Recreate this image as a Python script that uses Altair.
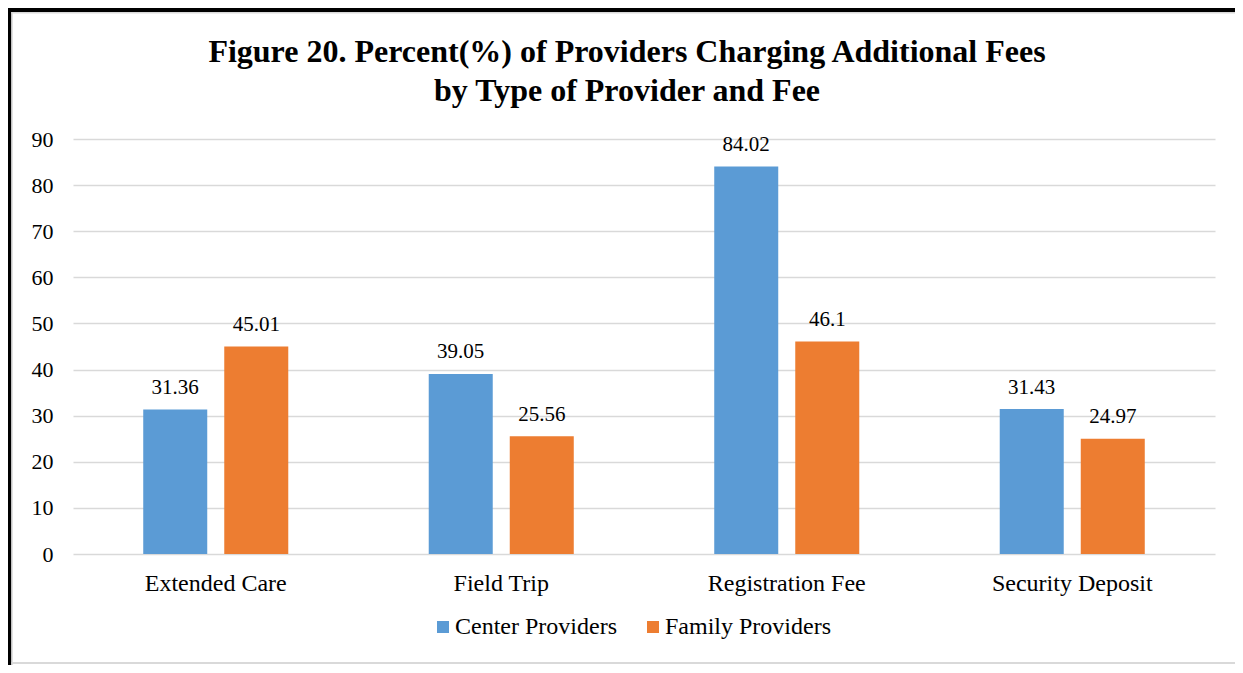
import altair as alt
import pandas as pd

# ---- data ----
categories = ["Extended Care", "Field Trip", "Registration Fee", "Security Deposit"]
series = ["Center Providers", "Family Providers"]
center_values = [31.36, 39.05, 84.02, 31.43]
family_values = [45.01, 25.56, 46.10, 24.97]
center_labels = ["31.36", "39.05", "84.02", "31.43"]
family_labels = ["45.01", "25.56", "46.1", "24.97"]
colors = ["#5B9BD5", "#ED7D31"]
y_ticks = [0, 10, 20, 30, 40, 50, 60, 70, 80, 90]
title_lines = ["Figure 20. Percent(%) of Providers Charging Additional Fees",
               "by Type of Provider and Fee"]

rows = []
for i, c in enumerate(categories):
    rows.append({"category": c, "series": series[0], "value": center_values[i], "label": center_labels[i]})
    rows.append({"category": c, "series": series[1], "value": family_values[i], "label": family_labels[i]})
df = pd.DataFrame(rows)

FONT = "Liberation Serif"
W, H = 1142, 415
PAD = {"left": 65, "top": 131, "right": 20, "bottom": 111}

x_enc = alt.X("category:N", sort=categories,
              scale=alt.Scale(paddingInner=0.492, paddingOuter=0.246),
              axis=alt.Axis(title=None, labelAngle=0, labelFontSize=24, labelFont=FONT,
                            labelColor="#000000", labelPadding=17, ticks=False, tickSize=0,
                            domain=False, grid=False))
xoff_enc = alt.XOffset("series:N", sort=series,
                       scale=alt.Scale(paddingInner=0.21, paddingOuter=0))
y_enc = alt.Y("value:Q", scale=alt.Scale(domain=[0, 90], nice=False),
              axis=alt.Axis(values=y_ticks, title=None, labelFontSize=22, labelFont=FONT,
                            labelColor="#000000", labelPadding=20, ticks=False, tickSize=0,
                            domain=False, gridColor="#d9d9d9", gridWidth=1.3))

bars = alt.Chart(df).mark_bar().encode(
    x=x_enc,
    xOffset=xoff_enc,
    y=y_enc,
    color=alt.Color("series:N", sort=series,
                    scale=alt.Scale(domain=series, range=colors),
                    legend=alt.Legend(title=None, orient="none", direction="horizontal",
                                      legendX=358, legendY=476, symbolType="square",
                                      symbolSize=144, symbolStrokeWidth=0, symbolOpacity=1,
                                      labelFontSize=24, labelFont=FONT, labelColor="#000000",
                                      labelOffset=0, labelLimit=400, columnPadding=24,
                                      padding=0)),
)

labels = alt.Chart(df).mark_text(baseline="alphabetic", dy=-15.5, fontSize=21,
                                 font=FONT, color="#000000").encode(
    x=alt.X("category:N", sort=categories),
    xOffset=alt.XOffset("series:N", sort=series),
    y=alt.Y("value:Q"),
    text="label:N",
)

# ---- frame decoration (chart border) ----
frame_df = pd.DataFrame({"k": [0]})
top_black = alt.Chart(frame_df).mark_rule(color="#000000", strokeWidth=4).encode(
    x=alt.value(-66), x2=alt.value(1165), y=alt.value(-129))
left_black = alt.Chart(frame_df).mark_rule(color="#000000", strokeWidth=4).encode(
    x=alt.value(-63.5), y=alt.value(-131), y2=alt.value(527))
top_gray = alt.Chart(frame_df).mark_rule(color="#d9d9d9", strokeWidth=1.5).encode(
    x=alt.value(-61.5), x2=alt.value(1165), y=alt.value(-126.3))
left_gray = alt.Chart(frame_df).mark_rule(color="#d9d9d9", strokeWidth=1.5).encode(
    x=alt.value(-61), y=alt.value(-127), y2=alt.value(527))
bottom_gray = alt.Chart(frame_df).mark_rule(color="#d9d9d9", strokeWidth=2).encode(
    x=alt.value(-61.5), x2=alt.value(1165), y=alt.value(524))

chart = alt.layer(top_black, left_black, top_gray, left_gray, bottom_gray, bars, labels).properties(
    width=W, height=H,
    title=alt.Title(title_lines, font=FONT, fontSize=32, fontWeight="bold", color="#000000",
                    anchor="middle", frame="group", dx=-17, lineHeight=39, offset=-102),
    autosize=alt.AutoSizeParams(type="none"),
    padding=PAD,
    background="#ffffff",
).configure_view(strokeWidth=0)

chart.save("out.html", embed_options={"renderer": "svg", "actions": False})
